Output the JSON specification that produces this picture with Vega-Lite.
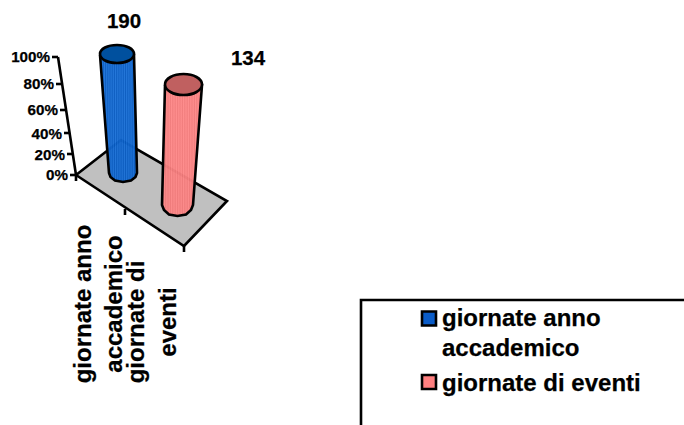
{"$schema":"https://vega.github.io/schema/vega-lite/v6.json","width":684,"height":425,"padding":0,"autosize":"none","background":"white","view":{"stroke":null},
"datasets":{"shapes":[
{"id":"floor","n":0,"u":76,"v":175},{"id":"floor","n":1,"u":121,"v":140},{"id":"floor","n":2,"u":227,"v":201},{"id":"floor","n":3,"u":184,"v":246},{"id":"floor","n":4,"u":76,"v":175},
{"id":"blueSide","n":0,"u":100,"v":55},{"id":"blueSide","n":1,"u":109,"v":173},{"id":"blueSide","n":2,"u":110.5,"v":177},{"id":"blueSide","n":3,"u":115,"v":180.5},{"id":"blueSide","n":4,"u":123,"v":182},{"id":"blueSide","n":5,"u":131,"v":180.5},{"id":"blueSide","n":6,"u":135.5,"v":177},{"id":"blueSide","n":7,"u":137,"v":173},{"id":"blueSide","n":8,"u":134,"v":55},{"id":"blueSide","n":9,"u":100,"v":55},
{"id":"blueTop","n":0,"u":100,"v":54},{"id":"blueTop","n":1,"u":105,"v":47.5},{"id":"blueTop","n":2,"u":117,"v":45},{"id":"blueTop","n":3,"u":129,"v":47.5},{"id":"blueTop","n":4,"u":134,"v":54},{"id":"blueTop","n":5,"u":129,"v":60.5},{"id":"blueTop","n":6,"u":117,"v":63},{"id":"blueTop","n":7,"u":105,"v":60.5},
{"id":"redSide","n":0,"u":165,"v":85},{"id":"redSide","n":1,"u":162,"v":205},{"id":"redSide","n":2,"u":164,"v":210},{"id":"redSide","n":3,"u":169,"v":214.5},{"id":"redSide","n":4,"u":177.5,"v":216},{"id":"redSide","n":5,"u":186,"v":214.5},{"id":"redSide","n":6,"u":191,"v":210},{"id":"redSide","n":7,"u":193,"v":205},{"id":"redSide","n":8,"u":202,"v":85},{"id":"redSide","n":9,"u":165,"v":85},
{"id":"redTop","n":0,"u":165,"v":84.5},{"id":"redTop","n":1,"u":170.5,"v":77},{"id":"redTop","n":2,"u":183.5,"v":74},{"id":"redTop","n":3,"u":196.5,"v":77},{"id":"redTop","n":4,"u":202,"v":84.5},{"id":"redTop","n":5,"u":196.5,"v":92},{"id":"redTop","n":6,"u":183.5,"v":95},{"id":"redTop","n":7,"u":170.5,"v":92},
{"id":"axis","n":0,"u":58,"v":57},{"id":"axis","n":1,"u":76,"v":175},
{"id":"t100","n":0,"u":52,"v":57},{"id":"t100","n":1,"u":58,"v":57},
{"id":"t80","n":0,"u":56,"v":84},{"id":"t80","n":1,"u":62,"v":84},
{"id":"t60","n":0,"u":60,"v":110},{"id":"t60","n":1,"u":66,"v":110},
{"id":"t40","n":0,"u":64,"v":133},{"id":"t40","n":1,"u":70,"v":133},
{"id":"t20","n":0,"u":67,"v":154},{"id":"t20","n":1,"u":73,"v":154},
{"id":"t0","n":0,"u":70,"v":175},{"id":"t0","n":1,"u":76,"v":175},
{"id":"cat0","n":0,"u":76,"v":175},{"id":"cat0","n":1,"u":76,"v":181},
{"id":"cat1","n":0,"u":125,"v":209},{"id":"cat1","n":1,"u":125,"v":215},
{"id":"cat2","n":0,"u":184,"v":246},{"id":"cat2","n":1,"u":184,"v":252},
{"id":"box","n":0,"u":361,"v":425},{"id":"box","n":1,"u":361,"v":300},{"id":"box","n":2,"u":684,"v":300}
],
"labels":[
{"t":"100%","u":50,"v":62,"k":"axis"},{"t":"80%","u":54,"v":89,"k":"axis"},{"t":"60%","u":58,"v":115,"k":"axis"},{"t":"40%","u":62,"v":139,"k":"axis"},{"t":"20%","u":65,"v":160,"k":"axis"},{"t":"0%","u":68,"v":180,"k":"axis"},
{"t":"190","u":124,"v":28,"k":"value"},{"t":"134","u":248,"v":65,"k":"value"}
],
"cats":[
{"t":"giornate anno","u":91,"v":304},{"t":"accademico","u":122,"v":304},{"t":"giornate di","u":144,"v":322},{"t":"eventi","u":176,"v":322}
],
"legendText":[
{"t":"giornate anno","u":442,"v":326},{"t":"accademico","u":442,"v":356},{"t":"giornate di eventi","u":442,"v":391}
],
"swatches":[
{"s":"giornate anno accademico","u":429,"v":318.5},{"s":"giornate di eventi","u":429,"v":382}
]},
"encoding":{
"x":{"field":"u","type":"quantitative","scale":{"domain":[0,684],"nice":false,"zero":false},"axis":null},
"y":{"field":"v","type":"quantitative","scale":{"domain":[425,0],"nice":false,"zero":false},"axis":null}
},
"layer":[
{"data":{"name":"shapes"},"transform":[{"filter":"datum.id=='floor'"}],"mark":{"type":"line","fill":"#c0c0c0","stroke":"black","strokeWidth":2.6,"strokeJoin":"miter"},"encoding":{"order":{"field":"n"}}},
{"data":{"name":"shapes"},"transform":[{"filter":"datum.id=='blueSide'"}],"mark":{"type":"line","fillOpacity":0.96,"stroke":"black","strokeWidth":2.6,"fill":{"gradient":"linear","x1":0,"x2":1,"y1":0,"y2":0,"stops":[{"offset":0,"color":"#1c72d8"},{"offset":0.03,"color":"#0558bf"},{"offset":0.06,"color":"#1c72d8"},{"offset":0.09,"color":"#0558bf"},{"offset":0.12,"color":"#1c72d8"},{"offset":0.15,"color":"#0558bf"},{"offset":0.18,"color":"#1c72d8"},{"offset":0.21,"color":"#0558bf"},{"offset":0.24,"color":"#1c72d8"},{"offset":0.27,"color":"#0558bf"},{"offset":0.3,"color":"#1c72d8"},{"offset":0.33,"color":"#0558bf"},{"offset":0.36,"color":"#1c72d8"},{"offset":0.39,"color":"#0558bf"},{"offset":0.42,"color":"#1c72d8"},{"offset":0.45,"color":"#0558bf"},{"offset":0.48,"color":"#1c72d8"},{"offset":0.51,"color":"#0558bf"},{"offset":0.54,"color":"#1c72d8"},{"offset":0.57,"color":"#0558bf"},{"offset":0.6,"color":"#1c72d8"},{"offset":0.63,"color":"#0558bf"},{"offset":0.66,"color":"#1c72d8"},{"offset":0.69,"color":"#0558bf"},{"offset":0.72,"color":"#1c72d8"},{"offset":0.75,"color":"#0558bf"},{"offset":0.78,"color":"#1c72d8"},{"offset":0.81,"color":"#0558bf"},{"offset":0.84,"color":"#1c72d8"},{"offset":0.87,"color":"#0558bf"},{"offset":0.9,"color":"#1c72d8"},{"offset":0.93,"color":"#0558bf"},{"offset":0.96,"color":"#1c72d8"},{"offset":1,"color":"#0558bf"}]}},"encoding":{"order":{"field":"n"}}},
{"data":{"name":"shapes"},"transform":[{"filter":"datum.id=='blueTop'"}],"mark":{"type":"line","interpolate":"cardinal-closed","fill":"#00509e","stroke":"black","strokeWidth":2.6},"encoding":{"order":{"field":"n"}}},
{"data":{"name":"shapes"},"transform":[{"filter":"datum.id=='redSide'"}],"mark":{"type":"line","fillOpacity":0.96,"stroke":"black","strokeWidth":2.6,"fill":{"gradient":"linear","x1":0,"x2":1,"y1":0,"y2":0,"stops":[{"offset":0,"color":"#ff8a8a"},{"offset":0.03,"color":"#f07878"},{"offset":0.06,"color":"#ff8a8a"},{"offset":0.09,"color":"#f07878"},{"offset":0.12,"color":"#ff8a8a"},{"offset":0.15,"color":"#f07878"},{"offset":0.18,"color":"#ff8a8a"},{"offset":0.21,"color":"#f07878"},{"offset":0.24,"color":"#ff8a8a"},{"offset":0.27,"color":"#f07878"},{"offset":0.3,"color":"#ff8a8a"},{"offset":0.33,"color":"#f07878"},{"offset":0.36,"color":"#ff8a8a"},{"offset":0.39,"color":"#f07878"},{"offset":0.42,"color":"#ff8a8a"},{"offset":0.45,"color":"#f07878"},{"offset":0.48,"color":"#ff8a8a"},{"offset":0.51,"color":"#f07878"},{"offset":0.54,"color":"#ff8a8a"},{"offset":0.57,"color":"#f07878"},{"offset":0.6,"color":"#ff8a8a"},{"offset":0.63,"color":"#f07878"},{"offset":0.66,"color":"#ff8a8a"},{"offset":0.69,"color":"#f07878"},{"offset":0.72,"color":"#ff8a8a"},{"offset":0.75,"color":"#f07878"},{"offset":0.78,"color":"#ff8a8a"},{"offset":0.81,"color":"#f07878"},{"offset":0.84,"color":"#ff8a8a"},{"offset":0.87,"color":"#f07878"},{"offset":0.9,"color":"#ff8a8a"},{"offset":0.93,"color":"#f07878"},{"offset":0.96,"color":"#ff8a8a"},{"offset":1,"color":"#f07878"}]}},"encoding":{"order":{"field":"n"}}},
{"data":{"name":"shapes"},"transform":[{"filter":"datum.id=='redTop'"}],"mark":{"type":"line","interpolate":"cardinal-closed","fill":"#c06060","stroke":"black","strokeWidth":2.6},"encoding":{"order":{"field":"n"}}},
{"data":{"name":"shapes"},"transform":[{"filter":"test(/^(axis|t[0-9]|cat|box)/,datum.id)"}],"mark":{"type":"line","stroke":"black","strokeWidth":2.6},"encoding":{"detail":{"field":"id"},"order":{"field":"n"}}},
{"data":{"name":"labels"},"transform":[{"filter":"datum.k=='axis'"}],"mark":{"type":"text","font":"Liberation Sans","fontWeight":"bold","fontSize":15.2,"align":"right","baseline":"alphabetic","color":"black","stroke":"black","strokeWidth":0.25},"encoding":{"text":{"field":"t"}}},
{"data":{"name":"labels"},"transform":[{"filter":"datum.k=='value'"}],"mark":{"type":"text","font":"Liberation Sans","fontWeight":"bold","fontSize":20.5,"align":"center","baseline":"alphabetic","color":"black","stroke":"black","strokeWidth":0.25},"encoding":{"text":{"field":"t"}}},
{"data":{"name":"cats"},"mark":{"type":"text","font":"Liberation Sans","fontWeight":"bold","fontSize":24,"align":"center","baseline":"alphabetic","angle":270,"color":"black","stroke":"black","strokeWidth":0.25},"encoding":{"text":{"field":"t"}}},
{"data":{"name":"legendText"},"mark":{"type":"text","font":"Liberation Sans","fontWeight":"bold","fontSize":24,"align":"left","baseline":"alphabetic","color":"black","stroke":"black","strokeWidth":0.25},"encoding":{"text":{"field":"t"}}},
{"data":{"name":"swatches"},"mark":{"type":"point","shape":"square","filled":true,"size":196,"stroke":"black","strokeWidth":2.6,"opacity":1},"encoding":{"fill":{"field":"s","type":"nominal","legend":null,"scale":{"domain":["giornate anno accademico","giornate di eventi"],"range":["#0a5cc8","#ff8080"]}}}}
]}
